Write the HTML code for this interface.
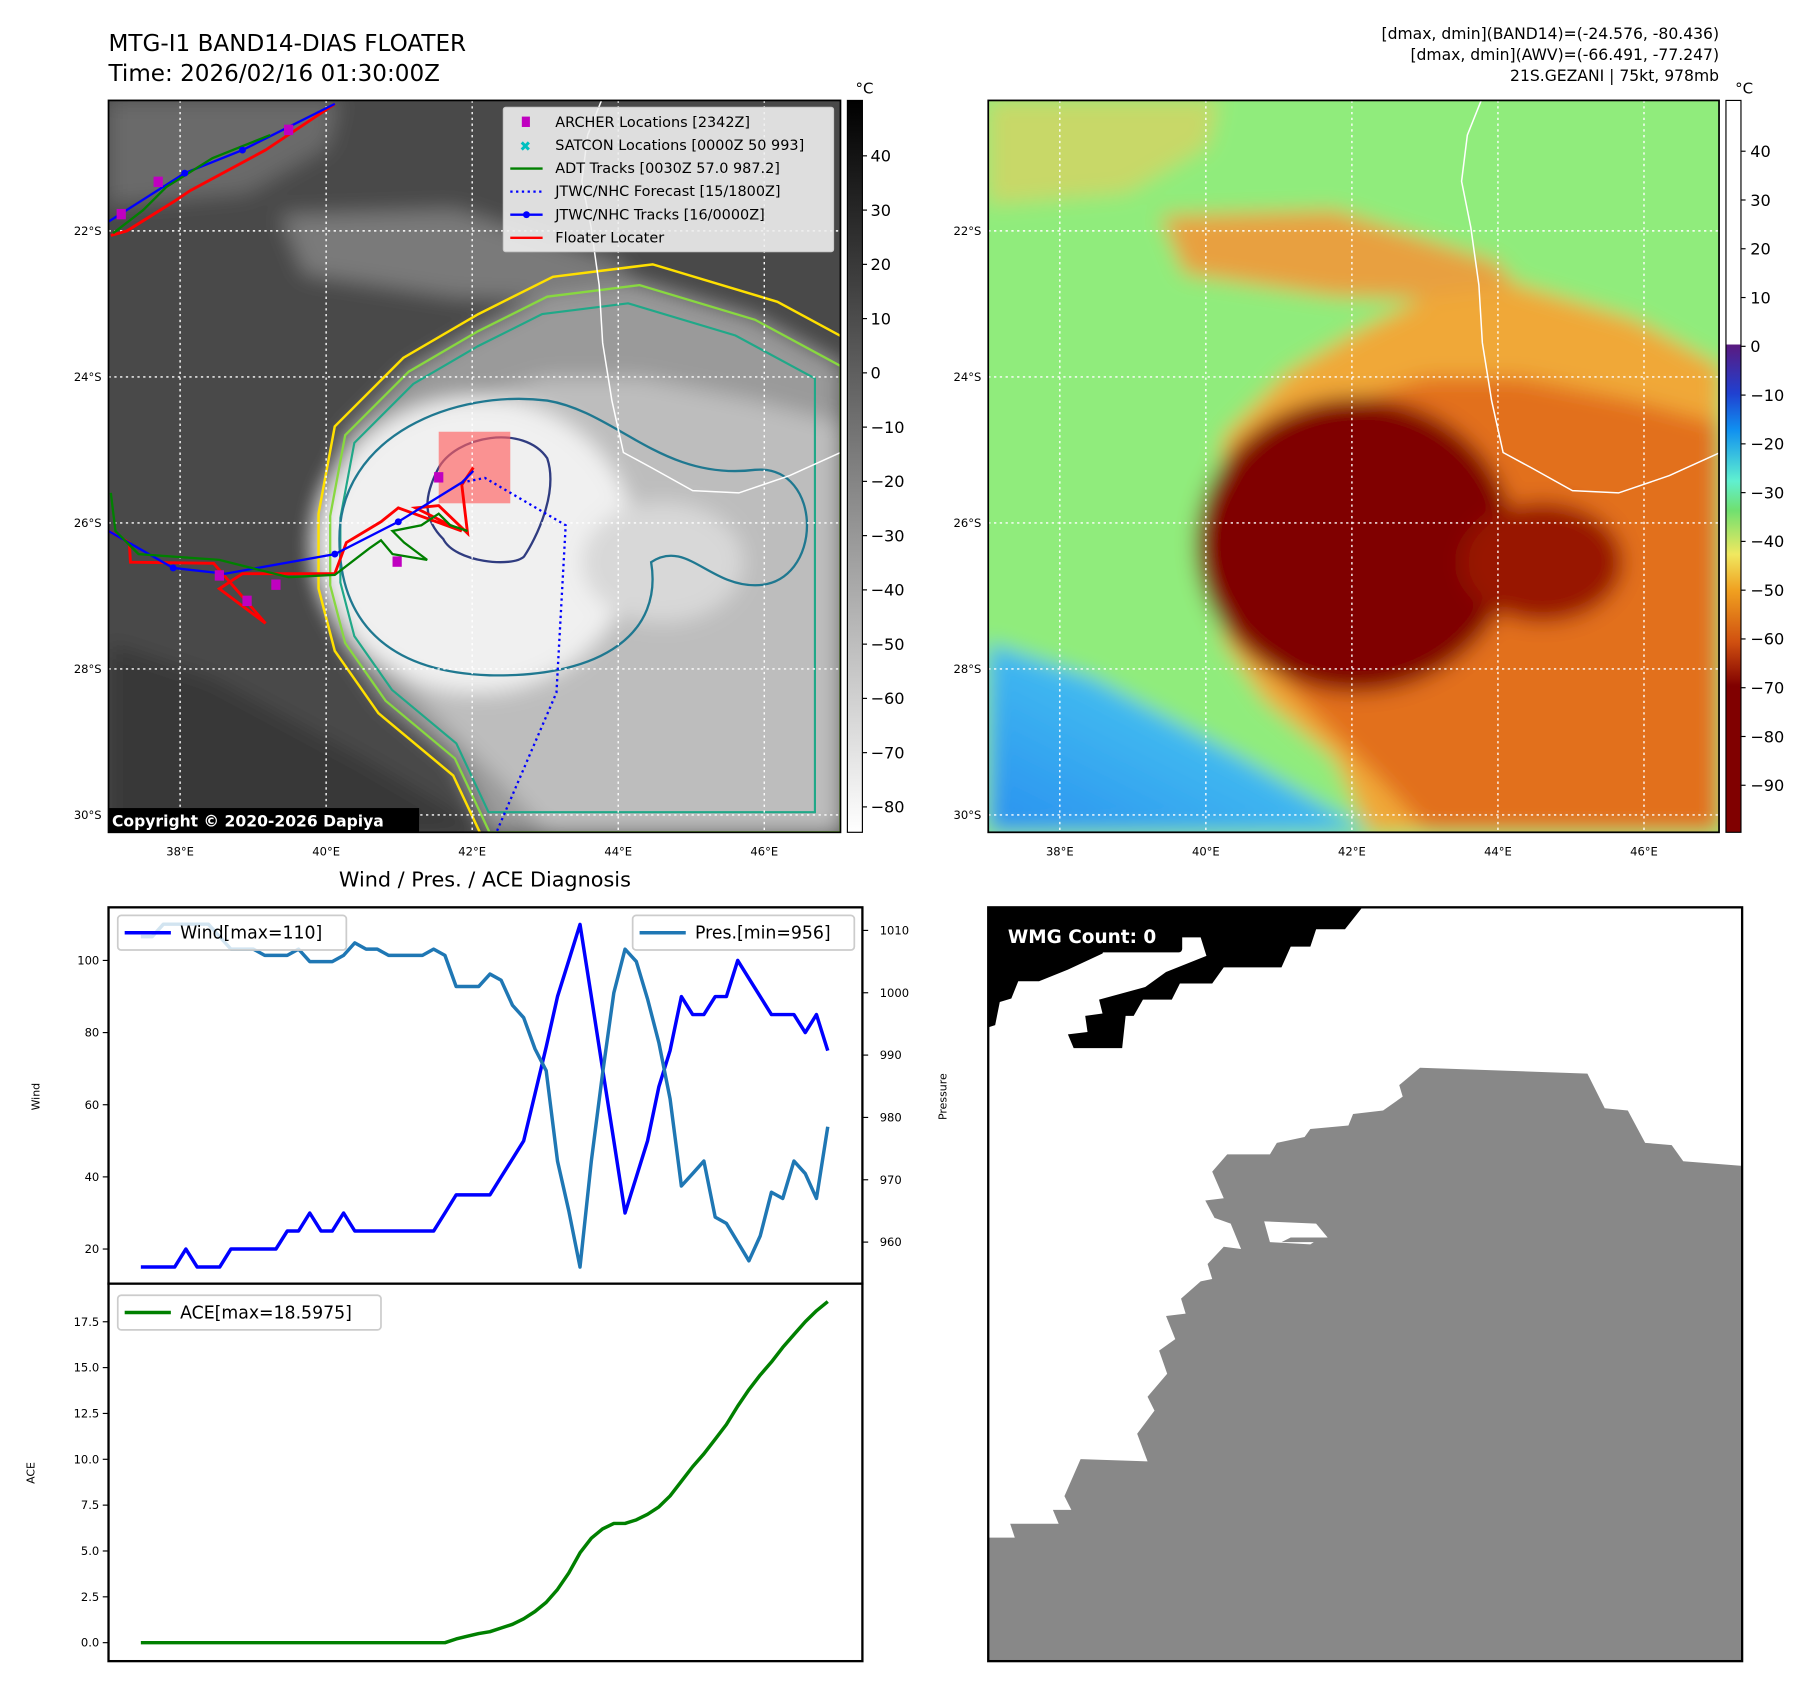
<!DOCTYPE html>
<html><head><meta charset="utf-8">
<style>
html,body{margin:0;padding:0;background:#fff;}
svg{display:block;font-family:"DejaVu Sans","Liberation Sans",sans-serif;}
</style></head>
<body>
<svg id="root" width="1801" height="1690" viewBox="0 0 1560 1464" preserveAspectRatio="none" xmlns="http://www.w3.org/2000/svg">
<defs>
  <filter id="blur" x="-10%" y="-10%" width="120%" height="120%"><feGaussianBlur stdDeviation="9"/></filter>
  <clipPath id="clip1"><rect x="94" y="87" width="634" height="634"/></clipPath>
  <clipPath id="clip2"><rect x="856" y="87" width="633" height="634"/></clipPath>
  <linearGradient id="cb1" x1="0" y1="0" x2="0" y2="1">
    <stop offset="0" stop-color="#000"/><stop offset="1" stop-color="#fff"/>
  </linearGradient>
  <linearGradient id="bluegrad" x1="1" y1="0" x2="0" y2="1">
    <stop offset="0" stop-color="#60e0e8"/><stop offset="0.5" stop-color="#40b8f0"/><stop offset="1" stop-color="#2890f0"/>
  </linearGradient>
  <linearGradient id="cb2" x1="0" y1="0" x2="0" y2="1">
    <stop offset="0" stop-color="#fff"/>
    <stop offset="0.333" stop-color="#fff"/>
    <stop offset="0.334" stop-color="#5a1a80"/>
    <stop offset="0.40" stop-color="#2040d0"/>
    <stop offset="0.45" stop-color="#1090f0"/>
    <stop offset="0.52" stop-color="#60f0d0"/>
    <stop offset="0.56" stop-color="#70e070"/>
    <stop offset="0.62" stop-color="#f0e860"/>
    <stop offset="0.67" stop-color="#f0a020"/>
    <stop offset="0.74" stop-color="#d05010"/>
    <stop offset="0.80" stop-color="#800000"/>
    <stop offset="1" stop-color="#800000"/>
  </linearGradient>
</defs>

<!-- Header -->
<text x="94" y="44" font-size="20">MTG-I1 BAND14-DIAS FLOATER</text>
<text x="94" y="70" font-size="20">Time: 2026/02/16 01:30:00Z</text>
<g font-size="13.5" text-anchor="end">
  <text x="1489" y="34">[dmax, dmin](BAND14)=(-24.576, -80.436)</text>
  <text x="1489" y="52">[dmax, dmin](AWV)=(-66.491, -77.247)</text>
  <text x="1489" y="70">21S.GEZANI | 75kt, 978mb</text>
</g>

<g id="map1" clip-path="url(#clip1)"><g id="m1layers" filter="url(#blur)"></g><g id="m1over"></g></g>
<g id="map2" clip-path="url(#clip2)"><g id="m2layers" filter="url(#blur)"></g><g id="m2over"></g></g>
<rect x="94" y="87" width="634" height="634" fill="none" stroke="#000" stroke-width="1.5"/>
<rect x="856" y="87" width="633" height="634" fill="none" stroke="#000" stroke-width="1.5"/>

<!-- colorbars -->
<rect x="734" y="87" width="13" height="634" fill="url(#cb1)" stroke="#000" stroke-width="1"/>
<rect x="1495" y="87" width="13" height="634" fill="url(#cb2)" stroke="#000" stroke-width="1"/>
<text x="741" y="81" font-size="13">°C</text>
<text x="1503" y="81" font-size="13">°C</text>
<g id="cbticks" font-size="14"></g>

<!-- Map tick labels -->
<g id="maplabels" font-size="10"></g>

<!-- legend map1 -->
<g>
  <rect x="436" y="93" width="286" height="125" fill="#eeeeee" fill-opacity="0.9" stroke="#ccc" rx="2"/>
  <rect x="452" y="101" width="7" height="9" fill="#c000c0"/>
  <text x="455" y="131" font-size="12" fill="#00c0c0" text-anchor="middle" font-weight="bold">✖</text>
  <line x1="442" y1="146" x2="470" y2="146" stroke="#008000" stroke-width="2"/>
  <line x1="442" y1="166" x2="470" y2="166" stroke="#0000ff" stroke-width="2" stroke-dasharray="2,3"/>
  <line x1="442" y1="186" x2="470" y2="186" stroke="#0000ff" stroke-width="2"/><circle cx="456" cy="186" r="3" fill="#0000ff"/>
  <line x1="442" y1="206" x2="470" y2="206" stroke="#ff0000" stroke-width="2"/>
  <g font-size="12.5" fill="#000">
    <text x="481" y="110">ARCHER Locations [2342Z]</text>
    <text x="481" y="130">SATCON Locations [0000Z 50 993]</text>
    <text x="481" y="150">ADT Tracks [0030Z 57.0 987.2]</text>
    <text x="481" y="170">JTWC/NHC Forecast [15/1800Z]</text>
    <text x="481" y="190">JTWC/NHC Tracks [16/0000Z]</text>
    <text x="481" y="210">Floater Locater</text>
  </g>
</g>
<rect x="94" y="700" width="269" height="21" fill="#000"/>
<text x="97" y="716" font-size="13.5" font-weight="bold" fill="#fff">Copyright © 2020-2026 Dapiya</text>

<!-- Diagnosis chart -->
<text x="420" y="768" font-size="18" text-anchor="middle">Wind / Pres. / ACE Diagnosis</text>
<g id="chart"></g>

<!-- WMG panel -->
<g>
  <rect x="856" y="786" width="653" height="653" fill="#fff"/>
  <polygon fill="#888" points="856,1332 879,1332 875,1320 917,1320 912,1308 928,1308 922,1296 936,1264 994,1266 985,1242 1000,1222 994,1210 1011,1190 1004,1170 1018,1160 1010,1140 1027,1138 1023,1125 1040,1110 1050,1108 1046,1095 1060,1080 1075,1082 1066,1060 1052,1055 1044,1040 1060,1038 1050,1015 1063,1000 1100,1000 1106,990 1130,985 1135,978 1168,975 1172,965 1198,962 1215,950 1212,940 1230,925 1375,930 1390,960 1410,962 1425,990 1448,992 1458,1006 1509,1010 1509,1439 856,1439"/>
  <polygon fill="#fff" points="1095,1058 1140,1060 1150,1072 1118,1072 1110,1076 1138,1076 1135,1078 1100,1076"/>
  <polygon fill="#000" points="856,786 1180,786 1165,805 1140,805 1135,820 1118,820 1110,838 1060,838 1050,852 1022,852 1015,866 990,866 982,880 975,880 972,908 930,908 925,896 942,894 940,880 955,878 952,866 992,855 1010,842 1045,828 1040,812 960,812 955,826 925,840 900,850 882,850 876,865 866,868 862,888 856,890"/>
  <rect x="862" y="796" width="162" height="29" fill="#000" rx="3"/>
  <text x="873" y="817" font-size="16" font-weight="bold" fill="#fff">WMG Count: 0</text>
  <rect x="856" y="786" width="653" height="653" fill="none" stroke="#000" stroke-width="2"/>
</g>

<script>
// ---------- chart data ----------
const windVals = [15,15,15,15,20,15,15,15,20,20,20,20,20,25,25,30,25,25,30,25,25,25,25,25,25,25,25,30,35,35,35,35,40,45,50,63,76,90,100,110,90,70,50,30,40,50,65,75,90,85,85,90,90,100,95,90,85,85,85,80,85,75];
const presVals = [1009,1009,1011,1011,1011,1011,1011,1009,1007,1007,1007,1006,1006,1006,1007,1005,1005,1005,1006,1008,1007,1007,1006,1006,1006,1006,1007,1006,1001,1001,1001,1003,1002,998,996,991,987.5,973,965,956,973,987,1000,1007,1005,999,992,983,969,971,973,964,963,960,957,961,968,967,973,971,967,978.5];
const aceVals = [0,0,0,0,0,0,0,0,0,0,0,0,0,0,0,0,0,0,0,0,0,0,0,0,0,0,0,0,0.2,0.35,0.5,0.6,0.8,1.0,1.3,1.7,2.2,2.9,3.8,4.9,5.7,6.2,6.5,6.5,6.7,7.0,7.4,8.0,8.8,9.6,10.3,11.1,11.9,12.9,13.8,14.6,15.3,16.1,16.8,17.5,18.1,18.6];
const windTicks = [20,40,60,80,100];
const presTicks = [960,970,980,990,1000,1010];
const aceTicks = [0,2.5,5,7.5,10,12.5,15,17.5];
const aceTickLabels = ["0.0","2.5","5.0","7.5","10.0","12.5","15.0","17.5"];

const NS='http://www.w3.org/2000/svg';
function mk(tag, attrs, parent){const e=document.createElementNS(NS,tag);for(const k in attrs)e.setAttribute(k,attrs[k]);parent.appendChild(e);return e;}

// axis functions
const xIdx = i => 122 + i*(717-122)/(windVals.length-1);
const yWind = v => 1082 - (v-20)*(250/80);
const yPres = p => 1076 - (p-960)*(270/50);
const yAce = a => 1423 - a*(278/17.5);

const chart=document.getElementById('chart');
let b1=mk('rect',{x:94,y:786,width:653,height:326,fill:'#fff',stroke:'#000','stroke-width':2},chart);


let b2=mk('rect',{x:94,y:1112,width:653,height:327,fill:'#fff',stroke:'#000','stroke-width':2},chart);



windTicks.forEach(v=>{
  const y=yWind(v);
  mk('line',{x1:89,y1:y,x2:94,y2:y,stroke:'#000'},chart);
  const t=mk('text',{x:86,y:y+3.5,'font-size':10,'text-anchor':'end'},chart);t.textContent=v;
  
  
});
presTicks.forEach(p=>{
  const y=yPres(p);
  mk('line',{x1:747,y1:y,x2:752,y2:y,stroke:'#000'},chart);
  const t=mk('text',{x:762,y:y+3.5,'font-size':10},chart);t.textContent=p;
  
  
});
aceTicks.forEach((a,k)=>{
  const y=yAce(a);
  mk('line',{x1:89,y1:y,x2:94,y2:y,stroke:'#000'},chart);
  const t=mk('text',{x:86,y:y+3.5,'font-size':10,'text-anchor':'end'},chart);t.textContent=aceTickLabels[k];
  
  
});
let yl=mk('text',{x:0,y:0,'font-size':9.5,'text-anchor':'middle',transform:'translate(34,950) rotate(-90)'},chart);yl.textContent='Wind';


let yr=mk('text',{x:0,y:0,'font-size':9.5,'text-anchor':'middle',transform:'translate(820,950) rotate(-90)'},chart);yr.textContent='Pressure';


let ya=mk('text',{x:0,y:0,'font-size':9.5,'text-anchor':'middle',transform:'translate(30,1276) rotate(-90)'},chart);ya.textContent='ACE';



function poly(vals, yf){return vals.map((v,i)=>xIdx(i).toFixed(1)+','+yf(v).toFixed(1)).join(' ');}
let wl=mk('polyline',{points:poly(windVals,yWind),fill:'none',stroke:'#0000ff','stroke-width':3,'stroke-linejoin':'round'},chart);


let pl=mk('polyline',{points:poly(presVals,yPres),fill:'none',stroke:'#1f77b4','stroke-width':3,'stroke-linejoin':'round'},chart);


let al=mk('polyline',{points:poly(aceVals,yAce),fill:'none',stroke:'#008000','stroke-width':3,'stroke-linejoin':'round'},chart);



function legend(x,y,w,color,label,name){
  const g=mk('g',{},chart);
  
  
  mk('rect',{x:x,y:y,width:w,height:30,fill:'#fff','fill-opacity':0.8,stroke:'#ccc','stroke-width':1.5,rx:3},g);
  mk('line',{x1:x+6,y1:y+15,x2:x+46,y2:y+15,stroke:color,'stroke-width':3},g);
  const t=mk('text',{x:x+54,y:y+20,'font-size':15},g);t.textContent=label;
  return g;
}
legend(102,793,198,'#0000ff','Wind[max=110]','wind-legend');
legend(548,793,192,'#1f77b4','Pres.[min=956]','pressure-legend');
legend(102,1122,228,'#008000','ACE[max=18.5975]','ace-legend');

// ---------- colorbar ticks ----------
const cb1Ticks=[40,30,20,10,0,-10,-20,-30,-40,-50,-60,-70,-80];
const cb2Ticks=[40,30,20,10,0,-10,-20,-30,-40,-50,-60,-70,-80,-90];
const cbg=document.getElementById('cbticks');
cb1Ticks.forEach(v=>{const y=135+(40-v)*4.7;mk('line',{x1:747,y1:y,x2:751,y2:y,stroke:'#000'},cbg);
 const t=mk('text',{x:754,y:y+5},cbg);t.textContent=(v<0?'−':'')+Math.abs(v);
 
 });
cb2Ticks.forEach(v=>{const y=131+(40-v)*4.225;mk('line',{x1:1508,y1:y,x2:1512,y2:y,stroke:'#000'},cbg);
 const t=mk('text',{x:1516,y:y+5},cbg);t.textContent=(v<0?'−':'')+Math.abs(v);
 
 });

// ---------- maps ----------
const latLabels=['22°S','24°S','26°S','28°S','30°S'];
const lonLabels=['38°E','40°E','42°E','44°E','46°E'];
const ml=document.getElementById('maplabels');
[94,856].forEach(ox=>{
  latLabels.forEach((s,k)=>{const t=mk('text',{x:ox-6,y:200+k*126.5+3.5,'text-anchor':'end'},ml);t.textContent=s;
    
    });
  lonLabels.forEach((s,k)=>{const t=mk('text',{x:ox+62+k*126.5,y:741,'text-anchor':'middle'},ml);t.textContent=s;
    
    });
});

const L_upper="0,0 200,0 190,40 120,80 0,90";
const L_blue="0,470 0,634 330,634 220,570 90,500";
const L_band="150,100 300,95 440,140 470,175 300,170 170,150";
const L_outer="634,230 560,190 460,160 380,170 320,200 260,235 205,290 192,360 192,420 205,470 240,520 300,570 330,634 634,634";
const L_mid="634,280 560,260 460,240 380,240 300,265 240,310 212,370 212,430 232,480 280,530 340,590 380,634 634,634";
const pal1={base:'#4a4a4a',upper:'#6a6a6a',blue:'#383838',band:'#7a7a7a',outer:'#9a9a9a',mid:'#bdbdbd',inner:'#f0f0f0',spot:'#d8d8d8'};
const pal2={base:'#90ec7c',upper:'#c8d868',blue:'url(#bluegrad)',band:'#e8a040',outer:'#f0a838',mid:'#e2701a',inner:'#800000',spot:'#981800'};
function drawMap(gid,ox,pal){
  const g=document.getElementById(gid);
  const T='translate('+ox+',87)';
  mk('rect',{x:ox-20,y:67,width:680,height:680,fill:pal.base},g);
  const grp=mk('g',{transform:T},g);
  mk('polygon',{points:L_upper,fill:pal.upper},grp);
  mk('polygon',{points:L_blue,fill:pal.blue},grp);
  mk('polygon',{points:L_band,fill:pal.band},grp);
  mk('polygon',{points:L_outer,fill:pal.outer},grp);
  mk('polygon',{points:L_mid,fill:pal.mid},grp);
  mk('ellipse',{cx:318,cy:385,rx:138,ry:128,fill:pal.inner},grp);
  mk('ellipse',{cx:480,cy:400,rx:70,ry:52,fill:pal.spot},grp);
}
drawMap('m1layers',94,pal1);
drawMap('m2layers',856,pal2);

const coast="427,0 415,30 410,70 418,110 425,160 428,210 436,260 446,305 470,318 506,338 546,340 590,325 634,305";
function overlay(gid,ox,contours){
  const g=document.getElementById(gid);
  const grp=mk('g',{transform:'translate('+ox+',87)'},g);
  if(contours){
    const cs=[['#ffe000',1.08],['#88d840',1.0],['#20a888',0.93]];
    cs.forEach(c=>{mk('polygon',{points:L_outer,fill:'none',stroke:c[0],'stroke-width':2,transform:'translate(318,385) scale('+c[1]+') translate(-318,-385)'},grp);});
    mk('path',{d:'M200,380 C200,290 300,250 380,260 C440,270 480,330 560,320 C620,315 620,420 560,420 C520,420 500,380 470,400 C480,460 430,500 330,498 C240,495 200,450 200,380 Z',fill:'none',stroke:'#1f7890','stroke-width':2},grp);
    mk('path',{d:'M285,320 C300,290 360,280 380,310 C390,340 370,380 360,395 C350,405 300,400 290,380 C270,360 275,340 285,320 Z',fill:'none',stroke:'#303c80','stroke-width':2},grp);
    mk('rect',{x:286,y:287,width:62,height:62,fill:'#ff6060','fill-opacity':0.65},grp);
  }
  mk('polyline',{points:coast,fill:'none',stroke:'#fff','stroke-width':1.3},grp);
  for(let k=0;k<5;k++){
    mk('line',{x1:62+k*126.5,y1:0,x2:62+k*126.5,y2:634,stroke:'#fff','stroke-width':1.2,'stroke-dasharray':'2,3'},grp);
    mk('line',{x1:0,y1:113+k*126.5,x2:634,y2:113+k*126.5,stroke:'#fff','stroke-width':1.2,'stroke-dasharray':'2,3'},grp);
  }
  if(contours){
    mk('polyline',{points:'2,117 16,113 56,88 71,78 136,43 196,3',fill:'none',stroke:'#ff0000','stroke-width':2.5},grp);
    mk('polyline',{points:'0,105 66,63 116,43 196,3',fill:'none',stroke:'#0000ff','stroke-width':2},grp);
    mk('polyline',{points:'4,115 30,95 50,75 90,50 140,30',fill:'none',stroke:'#008000','stroke-width':2},grp);
    mk('polyline',{points:'0,373 18,383 19,400 91,401 136,453 96,423 116,410 196,410 206,383 236,365 251,353 306,373 266,353 286,351 311,375 306,333 316,318',fill:'none',stroke:'#ff0000','stroke-width':2.5},grp);
    mk('polyline',{points:'0,373 56,405 101,410 196,393 251,365 306,331 316,321',fill:'none',stroke:'#0000ff','stroke-width':2},grp);
    mk('polyline',{points:'2,340 6,373 26,393 96,398 156,413 196,411 226,388 236,381 246,393 276,398 256,383 246,373 271,368 286,358 296,368 311,373',fill:'none',stroke:'#008000','stroke-width':2},grp);
    mk('polyline',{points:'306,331 326,327 396,368 388,513 336,634',fill:'none',stroke:'#0000ff','stroke-width':2,'stroke-dasharray':'2,3'},grp);
    [[43,70],[11,98],[156,25],[286,326],[250,399],[120,433],[145,419],[96,411]].forEach(p=>mk('rect',{x:p[0]-4,y:p[1]-4,width:8,height:9,fill:'#c000c0'},grp));
    [[56,405],[196,393],[251,365],[66,63],[116,43]].forEach(p=>mk('circle',{cx:p[0],cy:p[1],r:3,fill:'#0000ff'},grp));
  }
}
overlay('m1over',94,true);
overlay('m2over',856,false);
</script>
</svg>
</body></html>
